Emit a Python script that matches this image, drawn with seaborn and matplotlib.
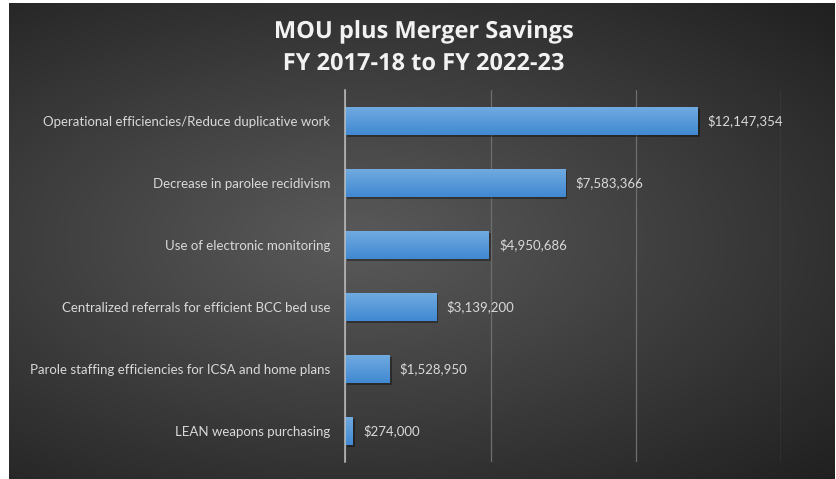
import numpy as np
import pandas as pd
import matplotlib
matplotlib.use("Agg")
import matplotlib.pyplot as plt
import matplotlib.patheffects as pe
import seaborn as sns

categories = [
    "Operational efficiencies/Reduce duplicative work",
    "Decrease in parolee recidivism",
    "Use of electronic monitoring",
    "Centralized referrals for efficient BCC bed use",
    "Parole staffing efficiencies for ICSA and home plans",
    "LEAN weapons purchasing",
]
savings = [12147354, 7583366, 4950686, 3139200, 1528950, 274000]
title_lines = ["MOU plus Merger Savings", "FY 2017-18 to FY 2022-23"]
x_ticks = [0, 5000000, 10000000, 15000000]

df = pd.DataFrame({"category": categories, "savings": savings})

sns.set_theme(style="white")
plt.rcParams["font.family"] = ["Lato", "DejaVu Sans"]

W, H = 837, 479
fig = plt.figure(figsize=(W / 100, H / 100), dpi=100)
fig.patch.set_facecolor("white")

# radial gradient background
bg = fig.add_axes([9 / W, 0, 1 - 11 / W, 1 - 3 / H])
bg.set_axis_off()
yy, xx = np.mgrid[0:1:300j, 0:1:500j]
r = np.sqrt(((xx - 0.42) / 0.8) ** 2 + ((yy - 0.5) / 0.7) ** 2)
r = np.clip(r / r.max(), 0, 1)
c0 = np.array([0x5a, 0x5a, 0x5a]) / 255
c1 = np.array([0x20, 0x20, 0x20]) / 255
img = c0[None, None, :] * (1 - r[..., None]) + c1[None, None, :] * r[..., None]
bg.imshow(img, aspect="auto", extent=[0, 1, 0, 1], origin="upper")

ax = fig.add_axes([345.5 / W, (H - 462) / H, (781 - 345.5) / W, (462 - 90) / H])
ax.patch.set_alpha(0)
sns.barplot(data=df, x="savings", y="category", orient="h", width=0.45,
            color="#5B9BD5", ax=ax, saturation=1)

grad = np.linspace(0, 1, 50)[:, None]
cm = matplotlib.colors.LinearSegmentedColormap.from_list("b", ["#70AAE0", "#4189D2"])
for p in ax.patches:
    p.set_edgecolor("none")
    p.set_path_effects([pe.SimplePatchShadow(offset=(1.2, -1.5), shadow_rgbFace="black", alpha=0.35), pe.Normal()])
    x0, y0 = p.get_x(), p.get_y()
    w, h = p.get_width(), p.get_height()
    im = ax.imshow(grad, cmap=cm, aspect="auto", extent=[x0, x0 + w, y0 + h, y0],
                   origin="upper", zorder=p.get_zorder() + 0.1)
    im.set_clip_path(p)

ax.bar_label(ax.containers[0], labels=[f"${v:,.0f}" for v in savings], padding=7,
             color="#D9D9D9", fontsize=9.5)

ax.set_xlim(0, 15000000)
ax.set_ylim(5.5, -0.5)
ax.set_xticks(x_ticks)
ax.set_xticklabels([])
ax.xaxis.grid(True, color="#6E6E6E", linewidth=0.9)
ax.set_axisbelow(True)
ax.tick_params(axis="both", length=0)
ax.tick_params(axis="y", colors="#D9D9D9", labelsize=9.5, pad=11)
ax.set_xlabel("")
ax.set_ylabel("")
for s in ["top", "right", "bottom"]:
    ax.spines[s].set_visible(False)
ax.spines["left"].set_color("#BFBFBF")
ax.spines["left"].set_linewidth(1.1)
ax.spines["left"].set_zorder(5)

for txt, ypx in zip(title_lines, [32, 64]):
    t = fig.text(424 / W, 1 - ypx / H, txt, ha="center", va="center",
                 color="#F2F2F2", fontsize=17, fontweight="bold",
                 family=["Open Sans", "DejaVu Sans"])
    t.set_path_effects([pe.SimpleLineShadow(offset=(1, -1), shadow_color="black", alpha=0.5),
                        pe.Normal()])

fig.savefig("out.png", dpi=100)
